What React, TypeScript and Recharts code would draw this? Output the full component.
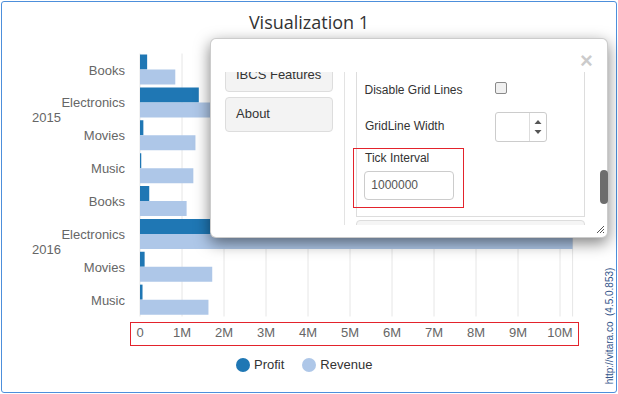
import React from 'react';
import { BarChart, Bar, XAxis, YAxis, CartesianGrid, Legend } from 'recharts';

const years = ['2015', '2016'];
const categories = ['Books', 'Electronics', 'Movies', 'Music'];
const profit2015 = [170000, 1400000, 80000, 30000];
const revenue2015 = [840000, 9200000, 1320000, 1270000];
const profit2016 = [220000, 2300000, 110000, 60000];
const revenue2016 = [1110000, 10300000, 1720000, 1630000];
const tickValues = [0, 1000000, 2000000, 3000000, 4000000, 5000000, 6000000, 7000000, 8000000, 9000000, 10000000];
const tickLabels = ['0', '1M', '2M', '3M', '4M', '5M', '6M', '7M', '8M', '9M', '10M'];

const profits = [profit2015, profit2016];
const revenues = [revenue2015, revenue2016];

const data = years.flatMap((year, yi) =>
  categories.map((category, ci) => ({
    key: `${year}-${category}`,
    year,
    category,
    Profit: profits[yi][ci],
    Revenue: revenues[yi][ci],
  }))
);

const FONT = '"Liberation Sans", Arial, sans-serif';

const YTick = (props: any) => {
  const { y, index } = props;
  const row = data[index];
  if (!row) return null;
  const showYear = index % categories.length === 1;
  return (
    <g>
      <text x={125} y={y} dy="0.355em" textAnchor="end" fill="#666" fontSize={13} fontFamily={FONT}>
        {row.category}
      </text>
      {showYear && (
        <text x={32} y={y + 15} dy="0.355em" textAnchor="start" fill="#666" fontSize={13} fontFamily={FONT}>
          {row.year}
        </text>
      )}
    </g>
  );
};

const renderLegend = (props: any) => {
  const payload = props.payload || [];
  return (
    <div style={{ display: 'flex', alignItems: 'center', fontSize: 13, color: '#333', fontFamily: FONT, lineHeight: '15px', whiteSpace: 'nowrap' }}>
      {payload.map((e: any, i: number) => (
        <span key={i} style={{ display: 'flex', alignItems: 'center', marginRight: i === 0 ? 18 : 0 }}>
          <span style={{ display: 'inline-block', width: 14, height: 14, borderRadius: 7, background: e.color, marginRight: 4 }} />
          {e.value}
        </span>
      ))}
    </div>
  );
};

const labelStyle: React.CSSProperties = {
  position: 'absolute',
  fontSize: 12,
  color: '#333',
  fontFamily: FONT,
  lineHeight: '14px',
  whiteSpace: 'nowrap',
};

export default function App() {
  return (
    <div style={{ position: 'fixed', left: 0, top: 0, width: 618, height: 394, background: '#fff', overflow: 'hidden', fontFamily: FONT }}>
      <div style={{ position: 'absolute', left: 1, top: 1, width: 616, height: 392, boxSizing: 'border-box', border: '1px solid #4d8fdb', borderRadius: 3 }} />
      <div style={{ position: 'absolute', left: 0, top: 11, width: 618, textAlign: 'center', fontSize: 18, fontFamily: '"Open Sans", sans-serif', color: '#333', lineHeight: '22px' }}>
        Visualization 1
      </div>
      <div style={{ position: 'absolute', left: 0, top: 0 }}>
        <BarChart
          width={618}
          height={394}
          data={data}
          layout="vertical"
          margin={{ top: 53.5, right: 45.4, left: 0, bottom: 47.5 }}
          barCategoryGap={1}
          barGap={0}
        >
          <CartesianGrid horizontal={false} vertical={true} stroke="#e6e6e6" />
          <XAxis
            type="number"
            domain={[0, 'dataMax']}
            ticks={tickValues}
            tickFormatter={(v: number) => tickLabels[tickValues.indexOf(v)] ?? ''}
            axisLine={false}
            tickLine={false}
            height={30}
            tickMargin={5}
            tick={{ fill: '#666', fontSize: 13, fontFamily: FONT }}
            interval={0}
          />
          <YAxis
            type="category"
            dataKey="key"
            width={140}
            axisLine={false}
            tickLine={false}
            interval={0}
            tick={<YTick />}
          />
          <Legend
            layout="horizontal"
            verticalAlign="middle"
            align="center"
            content={renderLegend}
            wrapperStyle={{ left: 236, top: 357, width: 'auto', height: 15 }}
          />
          <Bar dataKey="Profit" name="Profit" fill="#1f77b4" isAnimationActive={false} />
          <Bar dataKey="Revenue" name="Revenue" fill="#aec7e8" isAnimationActive={false} />
        </BarChart>
      </div>

      {/* red highlight around x-axis ticks */}
      <div style={{ position: 'absolute', left: 130, top: 321.5, width: 449, height: 24, boxSizing: 'border-box', border: '1px solid #e3232c' }} />

      {/* vertical credit text */}
      <div style={{ position: 'absolute', left: 609, top: 326, transform: 'translate(-50%, -50%) rotate(-90deg)', whiteSpace: 'nowrap', fontSize: 10, fontFamily: FONT, color: '#33558b', lineHeight: '11px' }}>
        http://vitara.co&nbsp; (4.5.0.853)
      </div>

      {/* settings dialog */}
      <div style={{ position: 'absolute', left: 210, top: 38, width: 398, height: 200, boxSizing: 'border-box', background: '#fff', border: '1px solid rgba(0,0,0,0.2)', borderRadius: 6, boxShadow: '0 5px 15px rgba(0,0,0,0.5)' }}>
        <div style={{ position: 'absolute', left: 369, top: 11, fontSize: 22, fontWeight: 'bold', color: '#000', opacity: 0.2, lineHeight: '22px', fontFamily: FONT }}>×</div>
        <div style={{ position: 'absolute', left: 0, top: 33, width: 396, height: 153, overflow: 'hidden' }}>
          <div style={{ position: 'absolute', left: 14, top: -14.3, width: 108, height: 34.5, boxSizing: 'border-box', background: '#f3f3f3', border: '1px solid #ddd', borderRadius: 4 }}>
            <div style={{ ...labelStyle, left: 10, top: 9, fontSize: 13 }}>IBCS Features</div>
          </div>
          <div style={{ position: 'absolute', left: 14, top: 25.3, width: 108, height: 34.5, boxSizing: 'border-box', background: '#f3f3f3', border: '1px solid #ddd', borderRadius: 4 }}>
            <div style={{ ...labelStyle, left: 10, top: 9, fontSize: 13 }}>About</div>
          </div>
          <div style={{ position: 'absolute', left: 133, top: 0, width: 1, height: 153, background: '#e3e3e3' }} />
          <div style={{ position: 'absolute', left: 145, top: -20, width: 229, height: 165, boxSizing: 'border-box', border: '1px solid #ddd' }} />
          <div style={{ ...labelStyle, left: 153.5, top: 11 }}>Disable Grid Lines</div>
          <div style={{ position: 'absolute', left: 284, top: 9.7, width: 12, height: 12, boxSizing: 'border-box', border: '1px solid #8a8a8a', borderRadius: 2, background: '#f0f0f0' }} />
          <div style={{ ...labelStyle, left: 154, top: 46.7 }}>GridLine Width</div>
          <div style={{ position: 'absolute', left: 284, top: 40.3, width: 52, height: 29.5, boxSizing: 'border-box', border: '1px solid #ccc', borderRadius: 3 }}>
            <div style={{ position: 'absolute', left: 33, top: 0, width: 1, height: 27.5, background: '#ddd' }} />
            <svg style={{ position: 'absolute', left: 37, top: 4 }} width={10} height={20}>
              <path d="M1.5 7 L5 3 L8.5 7 Z" fill="#555" />
              <path d="M1.5 13 L5 17 L8.5 13 Z" fill="#555" />
            </svg>
          </div>
          <div style={{ position: 'absolute', left: 142.3, top: 75.7, width: 111, height: 60, boxSizing: 'border-box', border: '1px solid #e3232c' }} />
          <div style={{ ...labelStyle, left: 154, top: 79.3 }}>Tick Interval</div>
          <div style={{ position: 'absolute', left: 153.3, top: 98.7, width: 89.5, height: 29.5, boxSizing: 'border-box', border: '1px solid #ccc', borderRadius: 4 }}>
            <div style={{ ...labelStyle, left: 6, top: 6.5, color: '#555' }}>1000000</div>
          </div>
          <div style={{ position: 'absolute', left: 145, top: 148, width: 229, height: 20, boxSizing: 'border-box', background: '#f5f5f5', border: '1px solid #ddd', borderRadius: 4 }} />
        </div>
        <div style={{ position: 'absolute', left: 389.3, top: 131, width: 7.4, height: 34.3, background: '#6d6d6d', borderRadius: 4 }} />
        <svg style={{ position: 'absolute', left: 385, top: 186 }} width={9} height={9}>
          <path d="M8 1 L1 8 M8 4 L4 8 M8 7 L7 8" stroke="#555" strokeWidth={1} />
        </svg>
      </div>
    </div>
  );
}
